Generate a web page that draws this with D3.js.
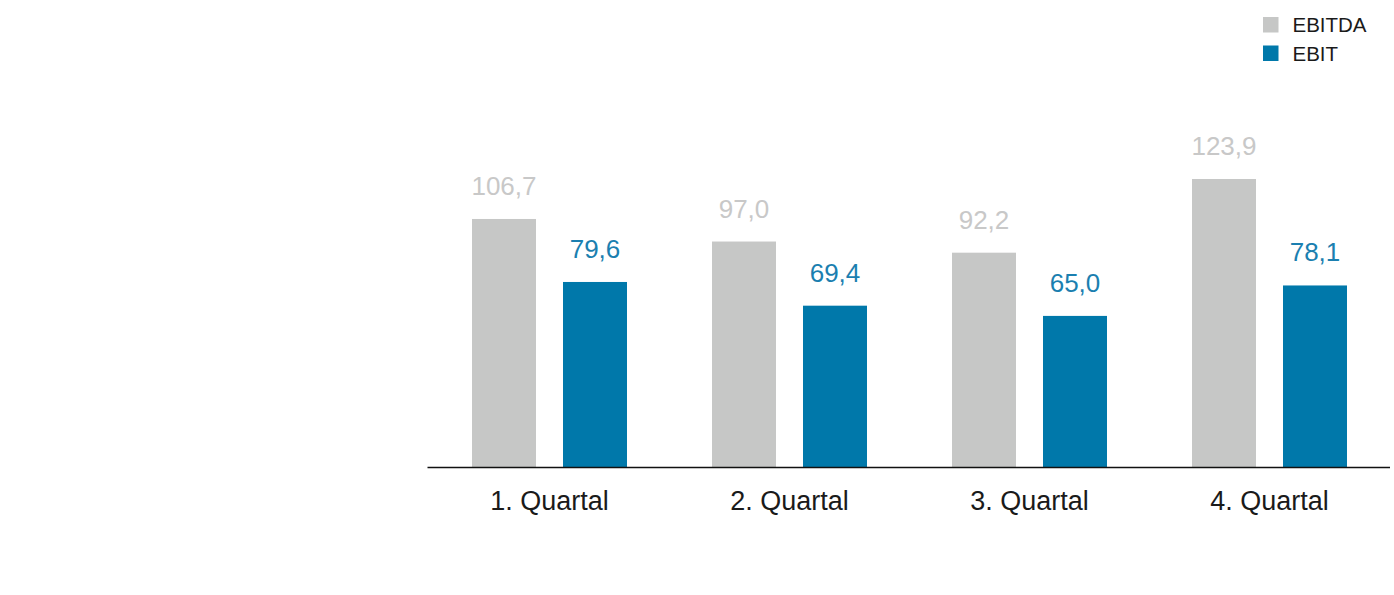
<!DOCTYPE html>
<html><head><meta charset="utf-8">
<script src="https://cdn.jsdelivr.net/npm/d3@7"></script>
<style>html,body{margin:0;padding:0;background:#fff;}svg{display:block;}</style>
</head><body>
<svg id="chart" width="1394" height="595"></svg>
<script>
const categories = ["1. Quartal", "2. Quartal", "3. Quartal", "4. Quartal"];
const seriesNames = ["EBITDA", "EBIT"];
const ebitda = [106.7, 97.0, 92.2, 123.9];
const ebit = [79.6, 69.4, 65.0, 78.1];
const colors = ["#c6c7c6", "#0078aa"];
const labelColors = ["#c8c8c8", "#1b7fb0"];

const svg = d3.select("#chart");
const baseY = 467;
const fmt = v => d3.format(".1f")(v).replace(".", ",");

const x0 = d3.scaleBand().domain(categories).range([429.5, 1389.5]).paddingInner(0).paddingOuter(0);
const x1 = d3.scaleBand().domain(seriesNames).range([x0.bandwidth()/2 - 77.5, x0.bandwidth()/2 + 77.5]).paddingInner(27/91).paddingOuter(0);
const y = d3.scaleLinear().domain([0, 123.9]).range([baseY, 179]);

const data = categories.map((c, i) => ({cat: c, vals: [ebitda[i], ebit[i]]}));

const g = svg.selectAll("g.grp").data(data).join("g")
  .attr("class", "grp")
  .attr("transform", d => `translate(${x0(d.cat)},0)`);

g.selectAll("rect").data(d => d.vals.map((v, j) => ({v, s: seriesNames[j], j}))).join("rect")
  .attr("x", d => x1(d.s))
  .attr("width", x1.bandwidth())
  .attr("y", d => y(d.v))
  .attr("height", d => baseY - y(d.v))
  .attr("fill", d => colors[d.j]);

g.selectAll("text.val").data(d => d.vals.map((v, j) => ({v, s: seriesNames[j], j}))).join("text")
  .attr("class", "val")
  .attr("x", d => x1(d.s) + x1.bandwidth()/2)
  .attr("y", d => y(d.v) - 24)
  .attr("text-anchor", "middle")
  .attr("font-family", "Liberation Sans, Arial, sans-serif")
  .attr("font-size", 26)
  .attr("fill", d => labelColors[d.j])
  .text(d => fmt(d.v));

// axis
const axis = svg.append("g").attr("transform", `translate(0,${baseY})`)
  .call(d3.axisBottom(x0).tickSize(0).tickPadding(24));
axis.select(".domain").attr("d", "M427.5,0.5H1390").attr("stroke", "#111").attr("stroke-width", 1.5);
axis.selectAll(".tick text")
  .attr("font-family", "Liberation Sans, Arial, sans-serif")
  .attr("font-size", 27)
  .attr("fill", "#1a1a1a")
  .attr("dy", "0.71em");

// legend
const leg = svg.append("g").attr("transform", "translate(1263,17)");
seriesNames.forEach((s, i) => {
  const row = leg.append("g").attr("transform", `translate(0,${i*28.5})`);
  row.append("rect").attr("width", 15.5).attr("height", 15.5).attr("fill", colors[i]);
  row.append("text").attr("x", 29.5).attr("y", 15)
    .attr("font-family", "Liberation Sans, Arial, sans-serif")
    .attr("font-size", 20.5).attr("fill", "#1a1a1a").text(s);
});
</script>
</body></html>
